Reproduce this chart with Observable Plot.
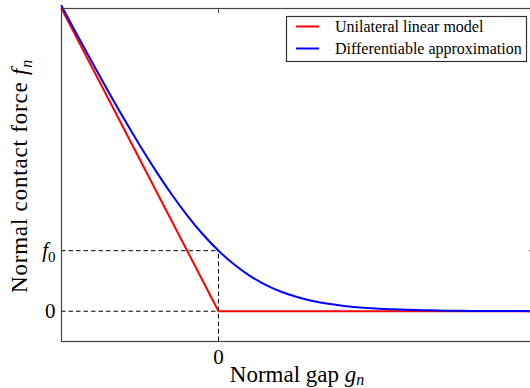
<!DOCTYPE html>
<html>
<head>
<meta charset="utf-8">
<script src="https://cdn.jsdelivr.net/npm/d3@7"></script>
<script src="https://cdn.jsdelivr.net/npm/@observablehq/plot@0.6"></script>
<style>
  html, body { margin: 0; padding: 0; background: #fff; }
  #chart { position: relative; width: 530px; height: 388px; overflow: hidden; }
</style>
</head>
<body>
<div id="chart"></div>
<script>
// Normal gap values (x) and forces
const blueGap = [-1.0, -0.9, -0.8, -0.7, -0.6, -0.5, -0.4, -0.3, -0.2, -0.1, 0.0,
                 0.1, 0.2, 0.3, 0.4, 0.5, 0.6, 0.7, 0.8, 0.9, 1.0,
                 1.1, 1.2, 1.3, 1.4, 1.5, 1.6, 1.7, 1.8, 1.9, 2.0];
const blueForce = [1.0089, 0.9123, 0.8174, 0.7245, 0.6339, 0.5469, 0.4644, 0.3873, 0.3170, 0.2543, 0.2000,
                   0.1543, 0.1170, 0.0874, 0.0644, 0.0470, 0.0340, 0.0244, 0.0175, 0.0125, 0.0089,
                   0.0063, 0.0045, 0.0032, 0.0022, 0.0016, 0.0011, 0.0008, 0.0006, 0.0004, 0.0003];
const redGap = [-1.0, 0.0, 2.0];
const redForce = [1.0, 0.0, 0.0];
const f0 = 0.2;
const refLevels = [0, f0];
const xTicks = [0];
const seriesNames = ["Unilateral linear model", "Differentiable approximation"];
const seriesColors = ["#ff0000", "#0000ff"];

const blue = blueGap.map((g, i) => ({g, f: blueForce[i]}));
const red = redGap.map((g, i) => ({g, f: redForce[i]}));

const W = 530, H = 388;
const plot = Plot.plot({
  width: W, height: H,
  marginLeft: 61, marginRight: -2, marginTop: 8, marginBottom: 47,
  style: {fontFamily: "Liberation Serif", fontSize: "21px", background: "#fff", color: "#000"},
  x: {domain: [-1, 2]},
  y: {domain: [-0.1, 1.0]},
  marks: [
    Plot.ruleY(refLevels, {x1: -1, x2: 0, stroke: "#000", strokeWidth: 1, strokeDasharray: "4.5,3"}),
    Plot.ruleX(xTicks, {y1: -0.1, y2: f0, stroke: "#000", strokeWidth: 1, strokeDasharray: "4.5,3"}),
    Plot.line(red, {x: "g", y: "f", stroke: seriesColors[0], strokeWidth: 2}),
    Plot.line(blue, {x: "g", y: "f", stroke: seriesColors[1], strokeWidth: 2, curve: "monotone-x"}),
    Plot.frame({stroke: "#444", strokeWidth: 1.2}),
    Plot.axisX(xTicks, {anchor: "bottom", tickSize: 0, tickPadding: 8, tickFormat: () => "0", label: null, fontSize: 21}),
    Plot.axisX(xTicks, {anchor: "top", tickSize: -4, tickFormat: () => "", label: null, stroke: "#444"}),
    Plot.axisY(refLevels, {anchor: "left", tickSize: 0, tickPadding: 6, tickFormat: d => d === 0 ? "0" : "f0", label: null, fontSize: 21}),
    Plot.axisY(refLevels, {anchor: "right", tickSize: -4, tickFormat: () => "", label: null, stroke: "#444"})
  ]
});
document.getElementById("chart").appendChild(plot);

const svg = d3.select(plot);
// f0 tick label with italic f and subscript 0
svg.selectAll("text").each(function() {
  const t = d3.select(this);
  if (t.text() === "f0") {
    t.text("");
    t.append("tspan").attr("font-style", "italic").text("f");
    t.append("tspan").attr("dy", "0.28em").attr("font-size", "15px").text("0");
  }
});

// Axis titles
const xl = svg.append("text")
  .attr("x", 297).attr("y", 382)
  .attr("text-anchor", "middle")
  .attr("font-family", "Liberation Serif").attr("font-size", "23px").attr("fill", "#000");
xl.append("tspan").text("Normal gap ");
xl.append("tspan").attr("font-style", "italic").text("g");
xl.append("tspan").attr("dy", "0.2em").attr("font-size", "16px").attr("font-style", "italic").text("n");

const yl = svg.append("text")
  .attr("transform", "translate(27,176) rotate(-90)")
  .attr("text-anchor", "middle")
  .attr("letter-spacing", "0.8px")
  .attr("font-family", "Liberation Serif").attr("font-size", "23px").attr("fill", "#000");
yl.append("tspan").text("Normal contact force ");
yl.append("tspan").attr("font-style", "italic").text("f");
yl.append("tspan").attr("dy", "0.3em").attr("font-size", "16px").attr("font-style", "italic").text("n");

// Legend
const lg = svg.append("g").attr("font-family", "Liberation Serif").attr("font-size", "16px").attr("text-anchor", "start");
lg.append("rect").attr("x", 286.5).attr("y", 16.5).attr("width", 240).attr("height", 45)
  .attr("fill", "#fff").attr("stroke", "#333").attr("stroke-width", 1.2);
seriesNames.forEach((name, i) => {
  const y = 26.5 + i * 22;
  lg.append("line").attr("x1", 296).attr("x2", 319).attr("y1", y).attr("y2", y)
    .attr("stroke", seriesColors[i]).attr("stroke-width", 2);
  lg.append("text").attr("x", 335).attr("y", y + 5).attr("text-anchor", "start").attr("fill", "#000").text(name);
});
</script>
</body>
</html>
